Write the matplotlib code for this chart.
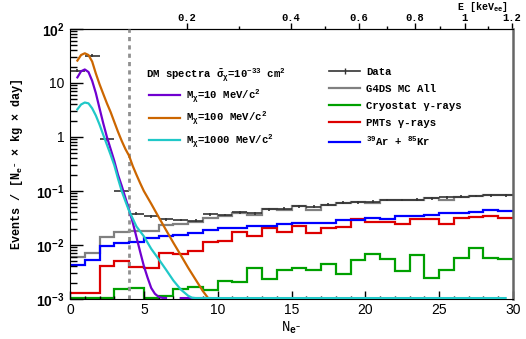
import matplotlib
matplotlib.use("Agg")
import matplotlib.pyplot as plt
import numpy as np
from matplotlib.lines import Line2D
from matplotlib.ticker import FixedLocator, LogLocator, NullFormatter, MultipleLocator

MONO = "Liberation Mono"
SANS = "Liberation Sans"
plt.rcParams["font.family"] = [MONO, "DejaVu Sans"]
plt.rcParams["font.weight"] = "bold"
plt.rcParams["mathtext.fontset"] = "custom"
plt.rcParams["mathtext.rm"] = "Liberation Mono:bold"
plt.rcParams["mathtext.it"] = "Liberation Mono:bold"
plt.rcParams["mathtext.bf"] = "Liberation Mono:bold"
plt.rcParams["mathtext.sf"] = "Liberation Sans"

# histogram bins: N_e- from 0 to 30, width 1
edges = np.arange(0, 31)
centers = edges[:-1] + 0.5

data = [17, 32, 0.9, 0.1, 0.038, 0.034, 0.030, 0.029, 0.028, 0.037,
        0.036, 0.040, 0.039, 0.046, 0.047, 0.052, 0.051, 0.056, 0.061, 0.062,
        0.063, 0.068, 0.068, 0.069, 0.074, 0.077, 0.079, 0.081, 0.083, 0.083]
g4ds_all = [0.006, 0.007, 0.0143, 0.0177, 0.0184, 0.018, 0.0234, 0.025, 0.027, 0.032,
            0.034, 0.039, 0.036, 0.046, 0.045, 0.052, 0.045, 0.056, 0.061, 0.063,
            0.060, 0.068, 0.068, 0.068, 0.073, 0.068, 0.078, 0.080, 0.083, 0.083]
cryostat = [0.00104, 0.00104, 0.00104, 0.0015, 0.0016, 0.00104, 0.00115, 0.0015, 0.0017, 0.00145,
            0.0022, 0.0021, 0.0038, 0.0023, 0.0034, 0.0038, 0.0034, 0.0045, 0.0029, 0.0053,
            0.0067, 0.0054, 0.0033, 0.0065, 0.0025, 0.0034, 0.0057, 0.0089, 0.0057, 0.0054]
pmts = [0.0013, 0.0013, 0.0041, 0.0051, 0.0039, 0.0037, 0.0072, 0.0069, 0.0078, 0.0115,
        0.0118, 0.0177, 0.0147, 0.021, 0.0177, 0.0228, 0.0164, 0.021, 0.0215, 0.030,
        0.027, 0.0265, 0.0245, 0.030, 0.030, 0.025, 0.031, 0.0325, 0.0344, 0.031]
ar_kr = [0.0043, 0.0053, 0.0096, 0.0107, 0.0115, 0.0133, 0.0147, 0.0155, 0.0168, 0.019,
         0.0204, 0.0205, 0.0225, 0.0225, 0.0242, 0.026, 0.026, 0.026, 0.0287, 0.0287,
         0.032, 0.030, 0.034, 0.034, 0.036, 0.0385, 0.0385, 0.040, 0.044, 0.042]
data_err_frac = 0.06

# DM spectra
dm10_n = [0.5, 0.75, 1.0, 1.25, 1.5, 1.75, 2.0, 2.25, 2.5, 2.75, 3.0, 3.25, 3.5, 3.75,
          4.0, 4.25, 4.5, 4.75, 5.0, 5.25, 5.5, 5.75, 6.0, 6.25, 6.5, np.nan, 7.5, 9.5]
dm10_v = [12.7, 16.5, 17.8, 16, 11, 6.5, 3.4, 1.8, 1.0, 0.6, 0.36, 0.2, 0.125, 0.075,
          0.045, 0.026, 0.014, 0.0075, 0.0041, 0.0025, 0.0016, 0.00125, 0.0011, 0.00105, 0.00104,
          np.nan, 0.00104, 0.00104]
dm100_n = [0.5, 0.75, 1.0, 1.25, 1.5, 1.75, 2.0, 2.25, 2.5, 2.75, 3.0, 3.25, 3.5, 3.75,
           4.0, 4.25, 4.5, 4.75, 5.0, 5.5, 6.0, 6.5, 7.0, 7.5, 8.0, 8.5, 9.0, 9.4]
dm100_v = [26, 33, 35.5, 33, 25, 15, 9.5, 6.3, 4.2, 2.9, 1.9, 1.25, 0.85, 0.6,
           0.45, 0.29, 0.2, 0.14, 0.1, 0.058, 0.033, 0.019, 0.011, 0.0065, 0.0038, 0.0023, 0.0014, 0.001]
dm1000_n = [0.5, 0.75, 1.0, 1.25, 1.5, 1.75, 2.0, 2.25, 2.5, 2.75, 3.0, 3.25, 3.5, 3.75,
            4.0, 4.5, 5.0, 5.5, 6.0, 6.5, 7.0, 7.5, 8.0, 8.25, 8.5, 29.5]
dm1000_v = [3.25, 4.0, 4.35, 4.2, 3.4, 2.5, 1.7, 1.1, 0.72, 0.47, 0.3, 0.17, 0.1, 0.065,
            0.043, 0.022, 0.0145, 0.0085, 0.0055, 0.0035, 0.0022, 0.0015, 0.00115, 0.00106, 0.00104, 0.00104]

threshold = 4

# energy scale calibration for the top axis
E_ticks_kev = [0.0, 0.2, 0.4, 0.6, 0.8, 1.0, 1.2, 1.4]
N_at_E = [0.0, 7.92, 14.96, 19.57, 23.36, 26.74, 29.93, 33.0]

C_DATA = "#333333"
C_MC = "#808080"
C_CRYO = "#00a000"
C_PMT = "#dd0000"
C_ARKR = "#0000ff"
C_DM10 = "#7000d0"
C_DM100 = "#cc6600"
C_DM1000 = "#20c8c8"

fig = plt.figure(figsize=(5.26, 3.39), dpi=100)
ax = fig.add_axes([70 / 526, 40 / 339, 443 / 526, 270 / 339])

lw = 1.6
h_mc = ax.stairs(g4ds_all, edges, color=C_MC, lw=lw, baseline=None, label="G4DS MC All")
h_cryo = ax.stairs(cryostat, edges, color=C_CRYO, lw=lw, baseline=None, label="Cryostat \u03b3-rays")
h_pmt = ax.stairs(pmts, edges, color=C_PMT, lw=lw, baseline=None, label="PMTs \u03b3-rays")
h_ar = ax.stairs(ar_kr, edges, color=C_ARKR, lw=lw, baseline=None, label="$^{39}$Ar + $^{85}$Kr")
data_arr = np.array(data)
ax.errorbar(centers, data_arr, xerr=0.5, yerr=data_arr * data_err_frac,
            fmt="none", ecolor=C_DATA, elinewidth=1.2, capsize=0)
h_data = Line2D([], [], color=C_DATA, lw=1.2, marker="|", markersize=4, label="Data")

ax.axvline(threshold, color="#909090", lw=2, ls=(0, (1.5, 1.5)), zorder=3)

h10, = ax.plot(dm10_n, dm10_v, color=C_DM10, lw=lw, label="M$_{\\chi}$=10 MeV/c$^{2}$", zorder=4)
h100, = ax.plot(dm100_n, dm100_v, color=C_DM100, lw=lw, label="M$_{\\chi}$=100 MeV/c$^{2}$", zorder=4)
h1000, = ax.plot(dm1000_n, dm1000_v, color=C_DM1000, lw=lw, label="M$_{\\chi}$=1000 MeV/c$^{2}$", zorder=4)

ax.set_yscale("log")
ax.set_xlim(0, 30)
ax.set_ylim(1e-3, 1e2)

# y ticks in ROOT style
ylocs = [1e-3, 1e-2, 1e-1, 1, 10, 100]
ylabels = [r"$\mathsf{10^{-3}}$", r"$\mathsf{10^{-2}}$", r"$\mathsf{10^{-1}}$", "1", "10", r"$\mathsf{10^{2}}$"]
ax.yaxis.set_major_locator(FixedLocator(ylocs))
ax.set_yticklabels(ylabels, fontfamily=SANS, fontsize=10, fontweight="normal")
ax.yaxis.set_minor_locator(LogLocator(base=10, subs=np.arange(2, 10)))
ax.yaxis.set_minor_formatter(NullFormatter())
ax.xaxis.set_major_locator(MultipleLocator(5))
ax.xaxis.set_minor_locator(MultipleLocator(1))
for lab in ax.get_xticklabels():
    lab.set_fontfamily(SANS)
    lab.set_fontweight("normal")
    lab.set_fontsize(10)

ax.tick_params(axis="y", which="major", direction="in", length=9.4, width=1, pad=4, right=False)
ax.tick_params(axis="y", which="minor", direction="in", length=5, width=1, right=False)
ax.tick_params(axis="x", which="major", direction="in", length=5.8, width=1, pad=3, top=False)
ax.tick_params(axis="x", which="minor", direction="in", length=2.5, width=1, top=False)
ax.spines["right"].set_color("#666666")
ax.spines["right"].set_linewidth(1.8)

ax.set_ylabel("Events / [N$_{e^{-}}$ \u00d7 kg \u00d7 day]", fontsize=8.5, fontweight="bold", labelpad=8)
ax.set_xlabel("N$_{e^{-}}$", fontsize=10, labelpad=2)

# top energy axis
def n_to_e(n):
    return np.interp(n, N_at_E, E_ticks_kev)


def e_to_n(e):
    return np.interp(e, E_ticks_kev, N_at_E)


sec = ax.secondary_xaxis("top", functions=(n_to_e, e_to_n))
sec.xaxis.set_major_locator(FixedLocator([0.2, 0.4, 0.6, 0.8, 1.0, 1.2]))
sec.xaxis.set_minor_locator(FixedLocator([0.3, 0.5, 0.7, 0.9, 1.1]))
sec.set_xticklabels(["0.2", "0.4", "0.6", "0.8", "1", "1.2"], fontsize=7.6, fontweight="bold")
sec.tick_params(which="major", direction="out", length=4, width=1, pad=0)
sec.tick_params(which="minor", direction="out", length=2, width=1)
fig.text(508 / 526, 1 - 0.5 / 339, "E [keV$_{ee}$]", ha="right", va="top", fontsize=7.2, fontweight="bold")

# DM legend: title as plain text, entries below it
ax.text((146 - 70) / 443, (299 - 75) / 270,
        "DM spectra $\\bar{\\sigma}_{\\chi}$=10$^{-33}$ cm$^{2}$",
        transform=ax.transAxes, ha="left", va="center", fontsize=7.7)
leg1 = ax.legend(handles=[h10, h100, h1000], loc="upper left",
                 bbox_to_anchor=((149 - 70) / 443, (299 - 87) / 270),
                 frameon=False, fontsize=7.7, handlelength=2.9, handletextpad=0.55,
                 labelspacing=0.45, borderpad=0, borderaxespad=0)
ax.add_artist(leg1)
ax.legend(handles=[h_data, h_mc, h_cryo, h_pmt, h_ar], loc="upper left",
          bbox_to_anchor=((329 - 70) / 443, (299 - 67) / 270),
          frameon=False, fontsize=7.7, handlelength=2.9, handletextpad=0.6,
          labelspacing=0.64, borderpad=0, borderaxespad=0)

fig.savefig("out.png", dpi=100)
